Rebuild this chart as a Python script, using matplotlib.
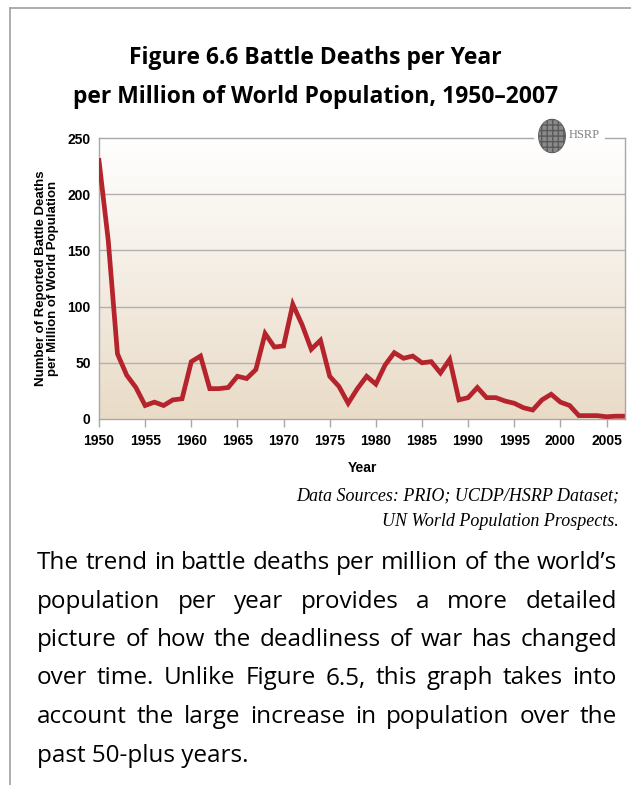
import matplotlib
matplotlib.use('Agg')
import matplotlib.pyplot as plt
import numpy as np
from matplotlib.patches import Circle
from matplotlib.lines import Line2D

# valores
anos = list(range(1950, 2008))
mortes = [230, 159, 58, 39, 28, 12, 15, 12, 17, 18,
          51, 56, 27, 27, 28, 38, 36, 44, 76, 64,
          65, 102, 84, 62, 70, 38, 29, 14, 27, 38,
          31, 48, 59, 54, 56, 50, 51, 41, 53, 17,
          19, 28, 19, 19, 16, 14, 10, 8, 17, 22,
          15, 12, 3, 3, 3, 2, 2.5, 2.5]
ticks_x = list(range(1950, 2006, 5))
ticks_y = [0, 50, 100, 150, 200, 250]

titulo = ['Figure 6.6 Battle Deaths per Year',
          'per Million of World Population, 1950\u20132007']
fontes = ['Data Sources: PRIO; UCDP/HSRP Dataset;',
          'UN World Population Prospects.']
texto = ["The trend in battle deaths per million of the world\u2019s",
         "population per year provides a more detailed",
         "picture of how the deadliness of war has changed",
         "over time. Unlike Figure 6.5, this graph takes into",
         "account the large increase in population over the",
         "past 50-plus years."]

W, H = 631, 785
fig = plt.figure(figsize=(W / 100, H / 100), dpi=100)

def fx(px):
    return px / W

def fy(py):
    return 1 - py / H

# moldura da página
fig.add_artist(Line2D([fx(10), 1], [fy(8), fy(8)], color='#a0a0a0', lw=1.2))
fig.add_artist(Line2D([fx(10), fx(10)], [fy(8), 0], color='#a0a0a0', lw=1.2))

# título
fig.text(0.5, fy(58), titulo[0], ha='center', va='center', fontsize=16.5,
         fontweight='bold', family='Open Sans')
fig.text(0.5, fy(97), titulo[1], ha='center', va='center', fontsize=16.5,
         fontweight='bold', family='Open Sans')

# eixos
x0, x1, y0, y1 = 99, 625, 138, 419
ax = fig.add_axes([fx(x0), fy(y1), fx(x1 - x0), (y1 - y0) / H])

grad = np.linspace(0, 1, 256)[:, None, None]
topo = np.array([1.0, 1.0, 1.0])
base = np.array([233, 219, 199]) / 255
img = topo + (base - topo) * grad
ax.imshow(img, extent=[1950, 2007, 0, 250], origin='upper', aspect='auto', zorder=0)
ax.set_xlim(1950, 2007)
ax.set_ylim(0, 250)

for v in ticks_y[1:-1]:
    ax.axhline(v, color='#b0b0b0', lw=1.0, zorder=1)

ax.plot(anos, mortes, color='#b5242c', lw=3.4, solid_joinstyle='miter', zorder=3)

for s in ['top', 'right']:
    ax.spines[s].set_visible(False)
ax.spines['left'].set_color('#a8a8a8')
ax.spines['bottom'].set_color('#a8a8a8')
ax.spines['left'].set_linewidth(1.0)
ax.spines['bottom'].set_linewidth(1.0)

# borda superior interrompida pelo logo e borda direita
fig.add_artist(Line2D([fx(x0), fx(533)], [fy(y0), fy(y0)], color='#a8a8a8', lw=1.0))
fig.add_artist(Line2D([fx(605), fx(x1)], [fy(y0), fy(y0)], color='#a8a8a8', lw=1.0))
fig.add_artist(Line2D([fx(x1), fx(x1)], [fy(y0), fy(y1)], color='#a8a8a8', lw=1.0))

ax.set_xticks(ticks_x)
ax.set_yticks(ticks_y)
ax.tick_params(axis='x', length=6, width=1.0, color='#a8a8a8', pad=5)
ax.tick_params(axis='y', length=0, pad=6)
for lbl in ax.get_xticklabels() + ax.get_yticklabels():
    lbl.set_family('Liberation Sans')
    lbl.set_fontweight('bold')
    lbl.set_fontsize(10)

ax.set_xlabel('Year', family='Liberation Sans', fontweight='bold', fontsize=10, labelpad=9)
fig.text(fx(47), fy(278), 'Number of Reported Battle Deaths\nper Million of World Population',
         rotation=90, ha='center', va='center', family='Liberation Sans',
         fontweight='bold', fontsize=9.5, linespacing=1.05)

# logo HSRP
fig.add_artist(Circle((fx(552), fy(136)), 13.5 / W, transform=fig.transFigure,
                      facecolor='#8a8a8a', edgecolor='#5a5a5a', hatch='+++', lw=0.6,
                      zorder=5))
fig.text(fx(569), fy(135), 'HSRP', ha='left', va='center', family='Liberation Serif',
         fontsize=9, color='#808080')

# fontes
fig.text(fx(619), fy(496), fontes[0], ha='right', va='center', family='Liberation Serif',
         style='italic', fontsize=13)
fig.text(fx(619), fy(521), fontes[1], ha='right', va='center', family='Liberation Serif',
         style='italic', fontsize=13)

# texto justificado
fig.canvas.draw()
renderer = fig.canvas.get_renderer()
esq, dir_ = 37, 617
teste = fig.text(0, 0, texto[0], family='Open Sans', fontsize=14.5)
tam = 14.5 * (dir_ - esq) / teste.get_window_extent(renderer).width
teste.remove()

y_base = 569
for i, linha in enumerate(texto):
    palavras = linha.split(' ')
    yy = fy(y_base + i * 38.5)
    if i == len(texto) - 1:
        fig.text(fx(esq), yy, linha, ha='left', va='baseline', family='Open Sans', fontsize=tam)
        continue
    objs = [fig.text(0, yy, p, ha='left', va='baseline', family='Open Sans', fontsize=tam)
            for p in palavras]
    larg = [o.get_window_extent(renderer).width for o in objs]
    gap = (dir_ - esq - sum(larg)) / (len(objs) - 1)
    pos = esq
    for o, w in zip(objs, larg):
        o.set_x(fx(pos))
        pos += w + gap

fig.savefig('out.png', dpi=100)
